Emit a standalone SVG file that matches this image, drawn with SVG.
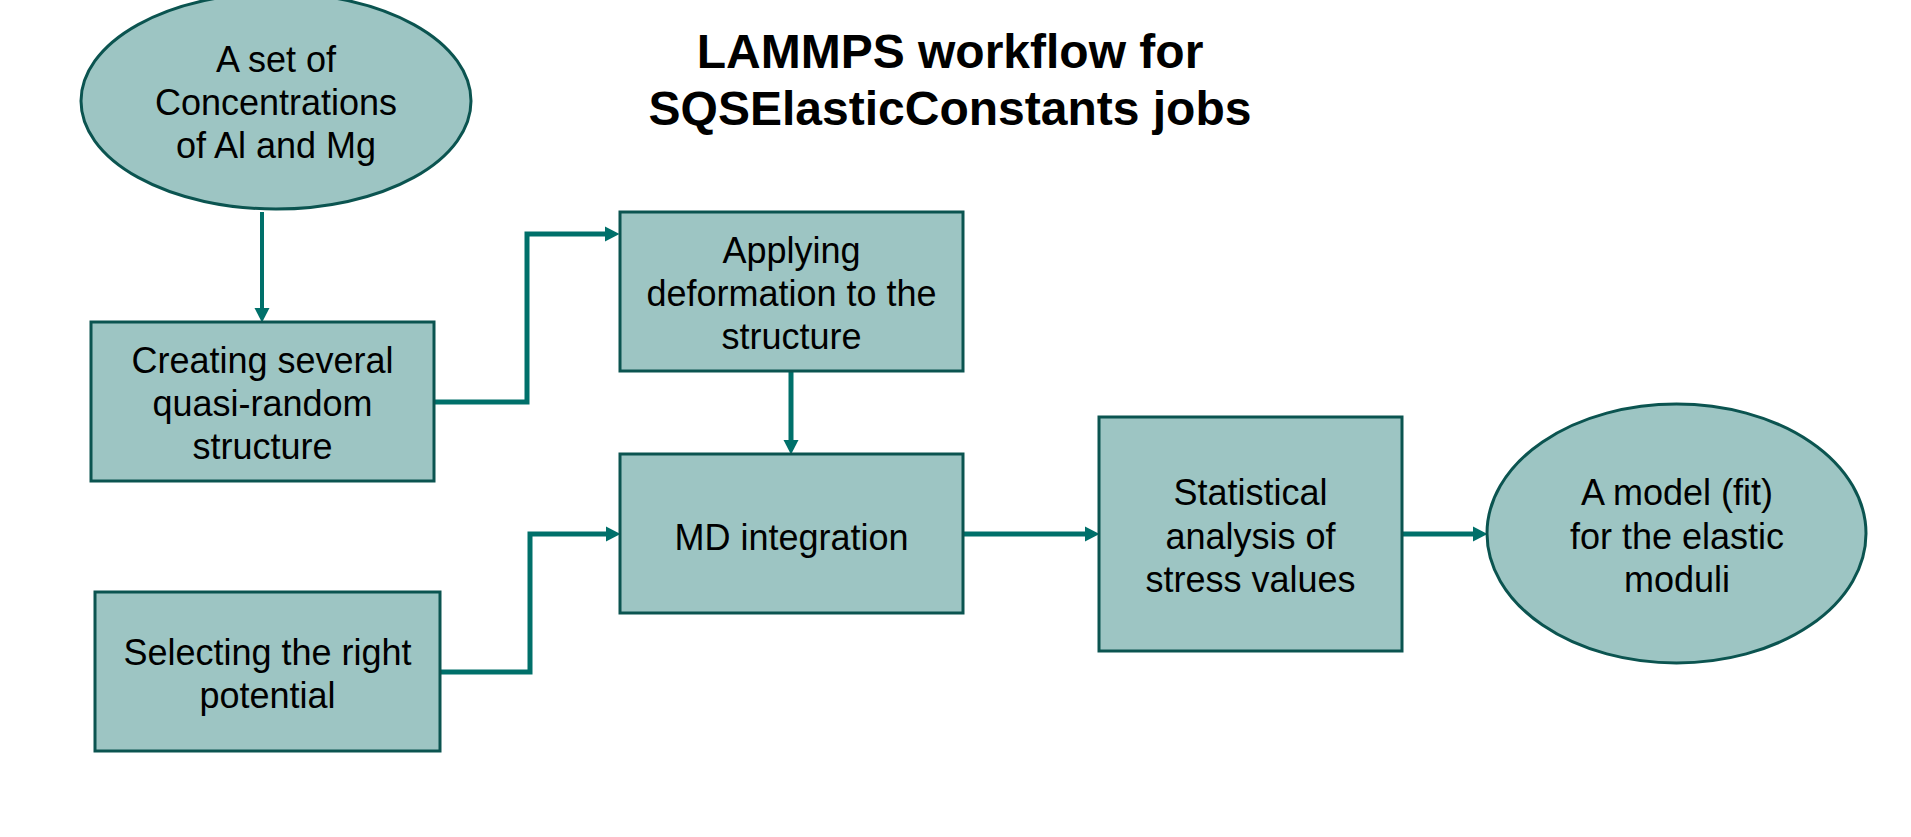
<svg xmlns="http://www.w3.org/2000/svg" width="1911" height="837" viewBox="0 0 1911 837">
<defs>
<style>
.node{fill:#9dc5c3;stroke:#0b5450;stroke-width:3}
.t{font-family:"Liberation Sans",Arial,sans-serif;font-size:36px;fill:#000;text-anchor:middle}
.title{font-family:"Liberation Sans",Arial,sans-serif;font-size:48px;font-weight:bold;fill:#000;text-anchor:middle}
.c{fill:none;stroke:#00706a;stroke-width:5;marker-end:url(#ah)}
</style>
<marker id="ah" markerUnits="userSpaceOnUse" markerWidth="15" markerHeight="16" refX="0" refY="7.5" orient="auto" viewBox="0 0 15 15">
<path d="M0,0 L14.5,7.5 L0,15 z" fill="#00706a"/>
</marker>
</defs>
<rect width="1911" height="837" fill="#fff"/>
<g id="title">
<text class="title" x="950" y="68">LAMMPS workflow for</text>
<text class="title" x="950" y="125">SQSElasticConstants jobs</text>
</g>
<g id="connectors">
<path class="c" d="M262,212 V308" style="stroke-width:4"/>
<path class="c" d="M434,402 H527 V234 H605"/>
<path class="c" d="M791,371 V440"/>
<path class="c" d="M440,672 H530 V534 H606"/>
<path class="c" d="M963,534 H1085"/>
<path class="c" d="M1402,534 H1473"/>
</g>
<g id="concentrations">
<ellipse class="node" cx="276" cy="101" rx="195" ry="108"/>
<text class="t" x="276" y="72">A set of</text>
<text class="t" x="276" y="115">Concentrations</text>
<text class="t" x="276" y="158">of Al and Mg</text>
</g>
<g id="creating">
<rect class="node" x="91" y="322" width="343" height="159"/>
<text class="t" x="262.5" y="373">Creating several</text>
<text class="t" x="262.5" y="416">quasi-random</text>
<text class="t" x="262.5" y="459">structure</text>
</g>
<g id="applying">
<rect class="node" x="620" y="212" width="343" height="159"/>
<text class="t" x="791.5" y="263">Applying</text>
<text class="t" x="791.5" y="306">deformation to the</text>
<text class="t" x="791.5" y="349">structure</text>
</g>
<g id="md">
<rect class="node" x="620" y="454" width="343" height="159"/>
<text class="t" x="791.5" y="550">MD integration</text>
</g>
<g id="selecting">
<rect class="node" x="95" y="592" width="345" height="159"/>
<text class="t" x="267.5" y="665">Selecting the right</text>
<text class="t" x="267.5" y="708">potential</text>
</g>
<g id="statistical">
<rect class="node" x="1099" y="417" width="303" height="234"/>
<text class="t" x="1250.5" y="505">Statistical</text>
<text class="t" x="1250.5" y="549">analysis of</text>
<text class="t" x="1250.5" y="592">stress values</text>
</g>
<g id="model">
<ellipse class="node" cx="1676.5" cy="533.5" rx="189.5" ry="129.5"/>
<text class="t" x="1677" y="505">A model (fit)</text>
<text class="t" x="1677" y="549">for the elastic</text>
<text class="t" x="1677" y="592">moduli</text>
</g>
</svg>
